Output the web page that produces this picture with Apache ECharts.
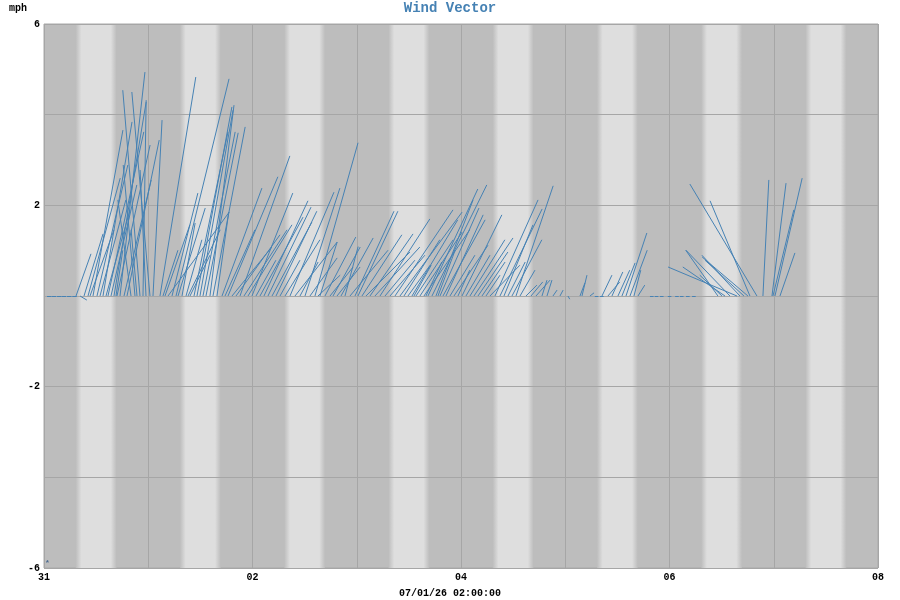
<!DOCTYPE html>
<html><head><meta charset="utf-8">
<script src="https://cdn.jsdelivr.net/npm/echarts@6/dist/echarts.min.js"></script>
<style>html,body{margin:0;padding:0;background:#fff}#c{width:900px;height:600px}</style>
</head><body><div id="c"></div>
<script>
// x axis in hours since start (day "31" 00:00); 8 days
var xTickLabels = ['31','','02','','04','','06','','08'];
var yTickLabels = {'-6':'-6','-2':'-2','2':'2','6':'6'};
var days = [0,1,2,3,4,5,6,7];
// wind vectors: base time (hours), east component (mph), north component (mph)
var vecHours = [0.7,1.8,3.0,4.1,5.3,6.5,8.3,
 7.37,9.21,10.13,10.59,11.28,12.20,12.89,13.58,14.27,14.73,15.42,16.11,16.80,17.50,18.42,19.11,22.10,24.40,20.95,22.79,25.09,20.03,23.48,16.57,21.41,
 26.70,28.54,30.39,29.47,30.85,31.77,32.69,33.61,34.53,35.22,35.91,36.60,37.29,38.21,38.90,39.82,33.15,27.85,27.39,
 40.98,42.36,41.67,43.28,44.20,45.12,46.04,46.96,47.88,48.80,49.72,50.64,51.56,52.49,53.41,54.33,55.48,56.63,57.78,58.93,
 62.38,60.08,61.23,63.07,63.53,64.68,65.84,66.53,67.45,68.37,69.29,70.44,71.59,72.28,73.20,74.12,75.04,76.19,77.35,78.50,79.65,80.80,81.95,82.87,83.79,
 84.71,85.63,86.55,87.47,88.39,89.31,90.23,91.16,91.85,92.54,93.46,94.38,95.30,96.22,97.14,98.06,98.99,99.91,100.83,101.75,102.67,103.82,104.97,105.89,106.81,107.73,108.66,109.58,110.96,112.11,113.26,85.17,87.93,90.69,
 114.64,115.79,117.17,118.78,120.62,123.85,123.39,125.69,128.45,129.83,130.75,132.13,133.05,133.98,134.90,135.82,136.74,
 126.8,128.0,139.5,140.6,141.8,143.6,145.3,146.4,147.8,149.2,
 164.13,162.52,155.15,157.92,160.22,162.06,159.53,156.77,161.14,156.08,165.51,167.59,168.28,167.82,169.43];
var vecU = [0.1,0.1,0.1,0.1,0.1,0.1,0.15,
 0.33,0.42,0.71,0.53,0.66,0.68,0.57,0.64,0.53,0.79,0.57,0.71,0.73,0.55,0.60,0.71,-0.38,-0.40,-0.26,0.07,0.20,-0.29,-0.13,0.15,-0.13,
 0.79,1.35,1.17,0.57,0.60,0.29,0.35,0.44,0.75,0.77,0.73,0.71,0.71,0.53,0.71,0.26,0.71,0.55,0.33,
 0.88,1.10,0.66,0.88,0.97,1.10,0.95,0.97,0.90,0.44,0.95,0.97,0.95,0.88,0.90,0.44,0.77,0.97,0.93,0.40,
 0.95,0.77,0.60,0.49,0.38,0.68,0.51,0.60,0.51,0.71,0.29,0.84,0.86,0.88,0.88,0.97,0.95,0.99,1.10,0.66,0.77,1.28,1.37,0.79,0.49,
 1.01,0.82,0.93,1.01,1.10,1.21,0.82,0.86,0.93,0.82,0.55,0.75,0.26,0.88,0.53,0.77,0.86,0.66,0.51,0.31,0.66,0.95,0.93,0.64,0.38,0.66,0.82,0.33,0.24,0.26,0.31,0.38,0.35,0.38,
 0.11,0.11,0.09,0.07,0.04,0.11,0.11,0.09,0.22,0.26,0.24,0.26,0.29,0.46,0.38,0.15,0.15,
 0.08,0.08,0.08,0.08,0.08,0.08,0.08,0.08,0.08,0.08,
 -1.48,-0.88,-0.71,-0.97,-0.84,-1.01,-1.52,-0.93,-0.86,-0.49,0.13,0.31,0.60,0.46,0.33];
var vecV = [0,0,0,0,0,0,-0.09,
 0.93,1.37,2.60,1.46,3.66,2.89,2.12,3.84,1.90,3.62,2.45,4.28,3.33,4.94,2.56,3.44,4.54,4.50,2.89,4.32,3.88,2.12,2.78,1.01,1.46,
 4.83,1.85,4.79,2.27,1.94,1.61,1.24,0.90,3.62,4.17,4.10,3.62,3.60,4.21,3.73,1.85,1.46,1.57,1.01,
 2.38,2.63,1.46,1.08,1.35,3.09,1.46,1.57,2.27,0.79,1.74,2.10,1.96,1.63,1.87,0.79,1.24,2.29,1.19,0.75,
 3.38,2.38,0.84,0.46,1.19,1.30,0.64,1.08,0.64,1.28,1.09,1.01,1.87,1.87,1.35,0.97,1.37,1.08,1.70,0.79,0.90,1.90,1.85,1.24,0.68,
 1.68,1.24,1.41,1.46,2.36,2.45,2.12,1.94,1.68,1.79,0.90,1.12,0.57,1.79,0.90,1.24,1.28,0.97,0.75,0.46,0.68,2.12,1.92,1.57,0.75,1.24,2.43,0.57,0.24,0.31,0.35,0.68,0.75,1.01,
 0.35,0.35,0.13,0.13,-0.07,0.46,0.29,0.07,0.46,0.31,0.53,0.57,0.73,1.39,1.01,0.57,0.24,
 0,0,0,0,0,0,0,0,0,0,
 2.47,2.10,1.01,1.01,0.90,0.86,0.64,0.64,0.79,0.46,2.56,2.49,2.60,1.90,0.95];

var GL=44, GR=22, GT=24, GB=32, W=900, H=600;
var XMIN=0, XMAX=192, YMIN=-6, YMAX=6;
// vectors drawn at equal pixel scale on both axes: hours per mph
var K = ((H-GT-GB)/(YMAX-YMIN)) / ((W-GL-GR)/(XMAX-XMIN));

var lineData = vecHours.map(function(h,i){
  return {coords:[[h,0],[h+vecU[i]*K, vecV[i]]]};
});

var chart = echarts.init(document.getElementById('c'), null, {renderer:'canvas'});
var font = 'Liberation Mono';
chart.setOption({
  animation:false,
  backgroundColor:'#ffffff',
  title:{text:'Wind Vector', left:'center', top:-4,
    textStyle:{fontFamily:font, fontWeight:'bold', fontSize:14, color:'#4682b4'}},
  grid:{left:GL,right:GR,top:GT,bottom:GB,show:true,backgroundColor:'#bdbdbd',borderColor:'#a8a8a8',borderWidth:1},
  xAxis:{type:'value',min:XMIN,max:XMAX,interval:24,z:3,
    axisLine:{show:false},axisTick:{show:false},
    splitLine:{show:true,lineStyle:{color:'#a6a6a6',width:1}},
    axisLabel:{margin:4,fontFamily:font,fontWeight:'bold',fontSize:10,color:'#000',
      formatter:function(v){return xTickLabels[Math.round(v/24)]||'';}}},
  yAxis:{type:'value',min:YMIN,max:YMAX,interval:2,z:3,
    axisLine:{show:false},axisTick:{show:false},
    splitLine:{show:true,lineStyle:{color:'#a6a6a6',width:1}},
    axisLabel:{margin:4,fontFamily:font,fontWeight:'bold',fontSize:10,color:'#000',
      formatter:function(v){return yTickLabels[String(v)]||'';}}},
  graphic:[
    {type:'text',left:9,top:3,style:{text:'mph',font:'bold 10px "Liberation Mono"',fill:'#000'}},
    {type:'text',left:'center',top:588,style:{text:'07/01/26 02:00:00',font:'bold 10px "Liberation Mono"',fill:'#000'}},
    {type:'text',left:45,top:559,z:10,style:{text:'*',font:'bold 8px "Liberation Mono"',fill:'#4a6a90'}}
  ],
  series:[
    {type:'custom',z:1,silent:true,data:days.map(function(d){return [d];}),
      renderItem:function(params,api){
        var d=api.value(0);
        var p0=api.coord([d*24+7.3,YMAX]);
        var p1=api.coord([d*24+16.7,YMIN]);
        return {type:'rect',shape:{x:p0[0],y:p0[1],width:p1[0]-p0[0],height:p1[1]-p0[1]},
          style:{fill:new echarts.graphic.LinearGradient(0,0,1,0,[
            {offset:0,color:'#bdbdbd'},{offset:0.14,color:'#dedede'},
            {offset:0.86,color:'#dedede'},{offset:1,color:'#bdbdbd'}])}};
      }},
    {type:'lines',coordinateSystem:'cartesian2d',z:5,silent:true,
      lineStyle:{color:'#4682b4',width:1,opacity:1},
      data:lineData}
  ]
});
</script></body></html>
